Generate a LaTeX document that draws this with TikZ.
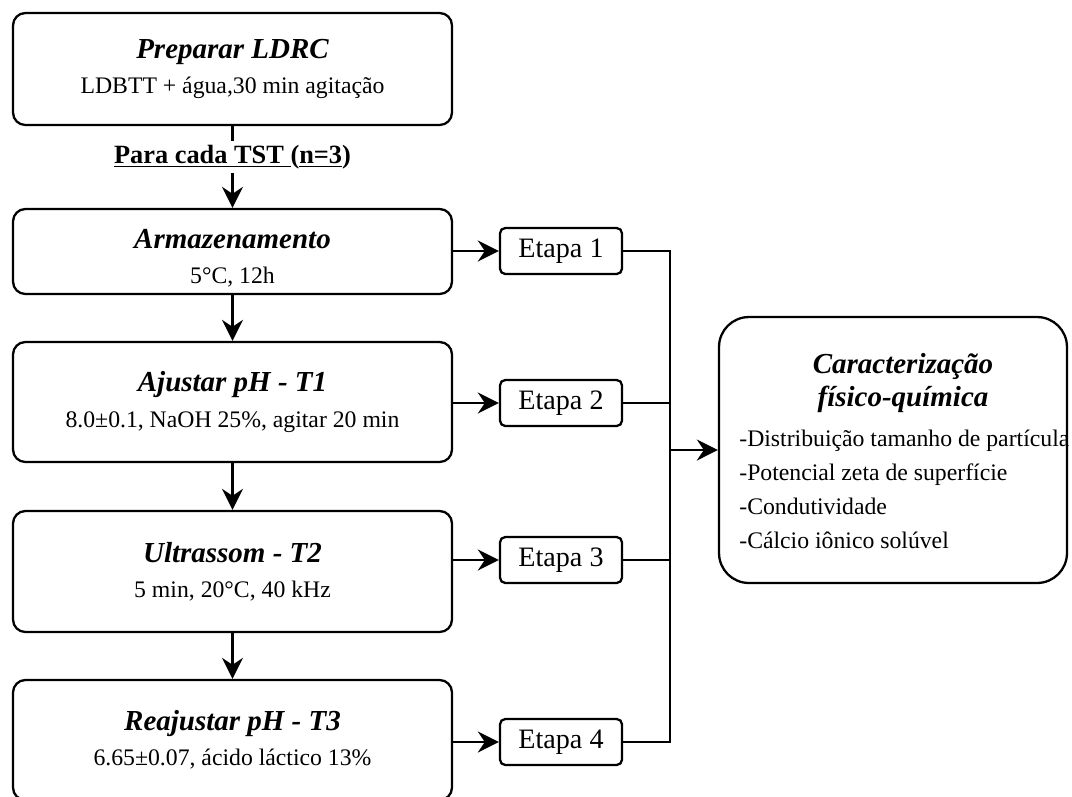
\documentclass[tikz,border=0pt]{standalone}
\usepackage{fontspec}
\setmainfont{Liberation Serif}
\usetikzlibrary{arrows.meta}

\newcommand{\stagetitle}[1]{{\fontsize{16.5}{21}\selectfont\bfseries\itshape #1}}

\begin{document}
\begin{tikzpicture}[x=0.02cm, y=-0.02cm,
    stepbox/.style={draw, line width=1.3pt, rounded corners=7pt, inner sep=0pt,
      minimum width=8.78cm, align=center, font=\fontsize{13.5}{20}\selectfont},
    etapa/.style={draw, line width=1.3pt, rounded corners=3pt, inner sep=0pt,
      minimum width=2.44cm, minimum height=0.92cm, font=\fontsize{16}{19}\selectfont},
    link/.style={line width=1.3pt},
    arrow/.style={link, -{Stealth[length=12pt, width=12pt, inset=4pt]}}
  ]
    \useasboundingbox (0,0) rectangle (1072,796);

    % Nodes
    \node[stepbox, minimum height=2.24cm] (prep) at (232.5,69) {\stagetitle{Preparar LDRC}\\LDBTT + água,30 min agitação};
    \node[inner sep=2pt, font=\fontsize{15}{18}\selectfont\bfseries] (cada) at (232.5,157) {\underline{Para cada TST\ }(\underline{n=3})};
    \node[stepbox, minimum height=1.7cm] (armaz) at (232.5,251.5) {\rule{0pt}{19pt}\stagetitle{Armazenamento}\\5°C, 12h};
    \node[stepbox, minimum height=2.4cm] (ajust) at (232.5,402) {\stagetitle{Ajustar pH - T1}\\8.0±0.1, NaOH 25\%, agitar 20 min};
    \node[stepbox, minimum height=2.42cm] (ultra) at (232.5,571.5) {\stagetitle{Ultrassom - T2}\\5 min, 20°C, 40 kHz};
    \node[stepbox, minimum height=2.4cm] (reaj) at (232.5,740) {\stagetitle{Reajustar pH - T3}\\6.65±0.07, ácido láctico 13\%};

    \node[etapa] (et1) at (561,251) {Etapa 1};
    \node[etapa] (et2) at (561,403) {Etapa 2};
    \node[etapa] (et3) at (561,560) {Etapa 3};
    \node[etapa] (et4) at (561,742) {Etapa 4};

    \node[draw, line width=1.3pt, rounded corners=17pt, minimum width=6.96cm, minimum height=5.32cm] (carac) at (893,450) {};
    \node[align=center, font=\fontsize{16.5}{19.3}\selectfont\bfseries\itshape] (caractitle) at (903,383) {Caracterização\\físico-química};
    \node[align=left, anchor=west, inner sep=0pt, font=\fontsize{13.5}{19.3}\selectfont] (caraclist) at (739,489) {-Distribuição tamanho de partícula\\-Potencial zeta de superfície\\-Condutividade\\-Cálcio iônico solúvel};

    \coordinate (bus) at (670,450);

    % Edges
    \draw[link] (prep) -- (cada);
    \draw[arrow] (cada) -- (armaz);
    \draw[arrow] (armaz) -- (ajust);
    \draw[arrow] (ajust) -- (ultra);
    \draw[arrow] (ultra) -- (reaj);

    \draw[arrow] (armaz.east |- et1) -- (et1);
    \draw[arrow] (ajust.east |- et2) -- (et2);
    \draw[arrow] (ultra.east |- et3) -- (et3);
    \draw[arrow] (reaj.east |- et4) -- (et4);

    \draw[link] (et1.east) -| (bus) |- (et4.east);
    \draw[link] (et2.east) -- (et2.east -| bus);
    \draw[link] (et3.east) -- (et3.east -| bus);
    \draw[arrow] (bus) -- (carac.west);
\end{tikzpicture}
\end{document}
